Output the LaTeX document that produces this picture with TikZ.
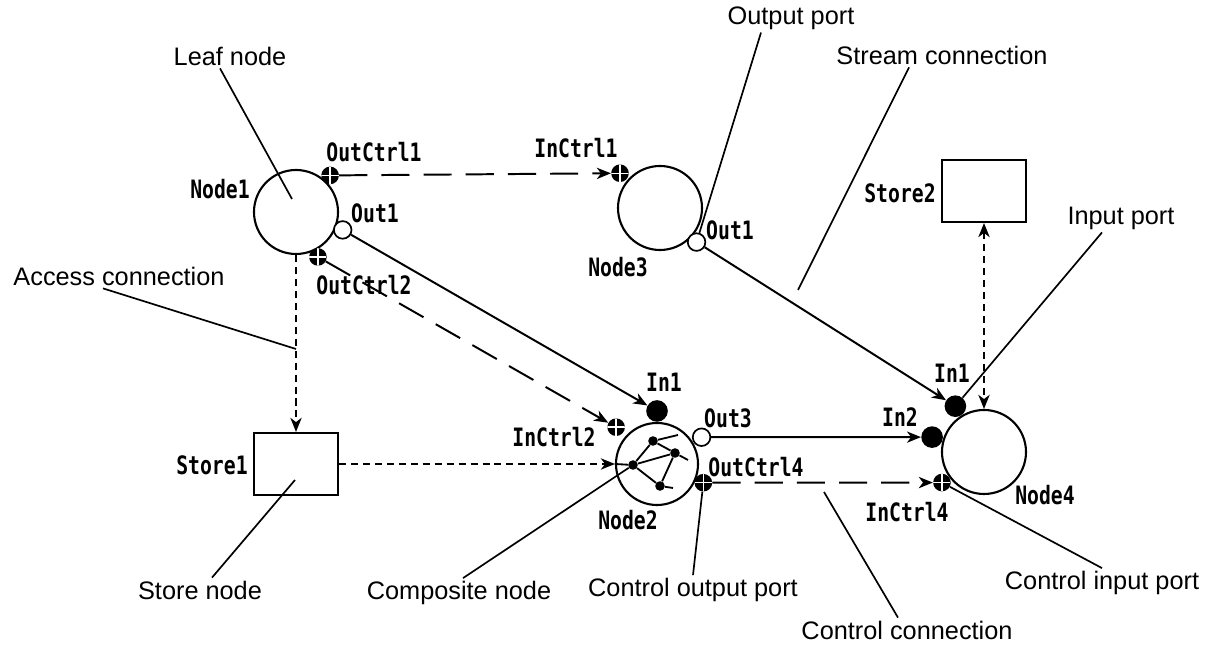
\documentclass[tikz,border=0pt]{standalone}
\usepackage{fontspec}
\setmainfont{Liberation Sans}
\newfontfamily\portfont{DejaVu Sans Mono}[FakeStretch=0.78]
\usetikzlibrary{positioning, arrows.meta, calc}

\tikzset{
  leafnode/.style={circle, draw, line width=1.5pt, minimum size=2.1cm, inner sep=0pt},
  storenode/.style={rectangle, draw, line width=1.5pt, minimum width=2.1cm,
    minimum height=1.55cm, inner sep=0pt},
  outport/.style={circle, draw, fill=white, line width=1.2pt, minimum size=0.44cm, inner sep=0pt},
  inport/.style={circle, fill=black, minimum size=0.54cm, inner sep=0pt},
  ctrlport/.style={circle, fill=black, minimum size=0.44cm, inner sep=0pt,
    path picture={\draw[white, line width=1pt]
      (path picture bounding box.north) -- (path picture bounding box.south)
      (path picture bounding box.west) -- (path picture bounding box.east);}},
  subdot/.style={circle, fill=black, minimum size=0.24cm, inner sep=0pt},
  portlabel/.style={font=\portfont\bfseries\fontsize{18}{21}\selectfont, inner sep=1pt},
  desc/.style={font=\fontsize{18}{21}\selectfont, inner sep=2pt},
  leader/.style={line width=1.2pt},
  subedge/.style={line width=1.3pt},
  stream/.style={line width=1.4pt, -{Stealth[length=10pt, width=8pt, inset=3pt]}},
  control/.style={stream, dash pattern=on 20pt off 10pt},
  access/.style={stream, dash pattern=on 5pt off 3.5pt},
  accessboth/.style={access,
    {Stealth[length=10pt, width=8pt, inset=3pt]}-{Stealth[length=10pt, width=8pt, inset=3pt]}},
}

\begin{document}
\begin{tikzpicture}[x=0.025cm, y=0.025cm]
  \useasboundingbox (0,0) rectangle (1219,650);

  % leaf, composite and store nodes
  \node[leafnode] (node1) at (296,438) {};
  \node[leafnode] (node3) at (660,442) {};
  \node[leafnode, minimum size=2.05cm] (node2) at (657,186) {};
  \node[leafnode] (node4) at (984,198) {};
  \node[storenode] (store1) at (296,186) {};
  \node[storenode] (store2) at (984,459) {};

  % ports
  \node[ctrlport] (n1octrla) at ($(node1)+(47:50)$) {};
  \node[outport]  (n1out)    at ($(node1)+(-21:50)$) {};
  \node[ctrlport] (n1octrlb) at ($(node1)+(-64:50)$) {};
  \node[ctrlport] (n3ictrl)  at ($(node3)+(139:53)$) {};
  \node[outport]  (n3out)    at ($(node3)+(-43:50)$) {};
  \node[inport]   (n2in1)    at ($(node2)+(90:53)$) {};
  \node[ctrlport] (n2ictrl)  at ($(node2)+(138:55)$) {};
  \node[outport]  (n2out3)   at ($(node2)+(31:52)$) {};
  \node[ctrlport] (n2octrl)  at ($(node2)+(-22:50)$) {};
  \node[inport]   (n4in1)    at ($(node4)+(122:54)$) {};
  \node[inport]   (n4in2)    at ($(node4)+(164:54)$) {};
  \node[ctrlport] (n4ictrl)  at ($(node4)+(-144:52)$) {};

  % inside the composite node
  \node[subdot] (n2a) at (653,209) {};
  \node[subdot] (n2b) at (675,197) {};
  \node[subdot] (n2c) at (633,185) {};
  \node[subdot] (n2d) at (660,164) {};
  \coordinate (n2astub) at (678,215);
  \coordinate (n2bstub) at (688,190);
  \coordinate (n2dstub) at (673,162);
  \draw[subedge] (n2c) -- (n2a) -- (n2b) -- (n2d) -- (n2c) -- (n2b);
  \draw[subedge] (n2a) -- (n2astub) (n2b) -- (n2bstub) (n2d) -- (n2dstub);
  \draw[subedge] (node2.west) -- (n2c);

  % connections
  \draw[control] (n1octrla) -- (n3ictrl);
  \draw[stream]  (n1out) -- (n2in1);
  \draw[control] (n1octrlb) -- (n2ictrl);
  \draw[access]  (node1) -- (store1);
  \draw[access]  (store1) -- (node2);
  \draw[stream]  (n3out) -- (n4in1);
  \draw[stream]  (n2out3) -- (n4in2);
  \draw[control] (n2octrl) -- (n4ictrl);
  \draw[accessboth] (store2) -- (node4);

  % port and node names
  \node[portlabel] (lnode1)    at (220,461) {Node1};
  \node[portlabel] (loctrla)   at (374,498) {OutCtrl1};
  \node[portlabel] (lout1a)    at (375,437) {Out1};
  \node[portlabel] (loctrlb)   at (364,365) {OutCtrl2};
  \node[portlabel] (lictrla)   at (576,502) {InCtrl1};
  \node[portlabel] (lnode3)    at (618,383) {Node3};
  \node[portlabel] (lout1b)    at (730,420) {Out1};
  \node[portlabel] (lstore2)   at (900,457) {Store2};
  \node[portlabel] (lstore1)   at (212,185) {Store1};
  \node[portlabel] (lictrlb)   at (554,213) {InCtrl2};
  \node[portlabel] (lnode2)    at (628,130) {Node2};
  \node[portlabel] (lin1a)     at (664,268) {In1};
  \node[portlabel] (lout3)     at (728,232) {Out3};
  \node[portlabel] (loctrlc)   at (756,183) {OutCtrl4};
  \node[portlabel] (lin2)      at (900,233) {In2};
  \node[portlabel] (lictrlc)   at (907,138) {InCtrl4};
  \node[portlabel] (lin1b)     at (952,277) {In1};
  \node[portlabel] (lnode4)    at (1045,155) {Node4};

  % descriptions and their leaders
  \coordinate (leafpt)   at (292,451);
  \coordinate (accesspt) at (296,301);
  \coordinate (streampt) at (798,360);
  \coordinate (storept)  at (295,170);
  \coordinate (ctrlpt)   at (824,158);

  \node[desc] (lleaf)     at (230,594)  {Leaf node};
  \node[desc] (laccess)   at (119,374)  {Access connection};
  \node[desc] (loutport)  at (791,632)  {Output port};
  \node[desc] (lstream)   at (942,595)  {Stream connection};
  \node[desc] (linport)   at (1121,432) {Input port};
  \node[desc] (lstorend)  at (200,60)   {Store node};
  \node[desc] (lcomp)     at (459,57)   {Composite node};
  \node[desc] (lctrlout)  at (693,60)   {Control output port};
  \node[desc] (lctrlconn) at (907,20)   {Control connection};
  \node[desc] (lctrlin)   at (1102,67)  {Control input port};

  \draw[leader] ($(lleaf.south)+(-10,0)$) -- (leafpt);
  \draw[leader] ($(laccess.south)+(-16,0)$) -- (accesspt);
  \draw[leader] ($(loutport.south)+(-30,0)$) -- (n3out);
  \draw[leader] ($(lstream.south)+(-33,0)$) -- (streampt);
  \draw[leader] ($(linport.south)+(-19,0)$) -- (n4in1);
  \draw[leader] ($(lstorend.north)+(12,0)$) -- (storept);
  \draw[leader] ($(lcomp.north)+(4,0)$) -- (n2c);
  \draw[leader] (lctrlout.north) -- (n2octrl);
  \draw[leader] ($(lctrlconn.north)+(-9,0)$) -- (ctrlpt);
  \draw[leader] (lctrlin.north) -- (n4ictrl);
\end{tikzpicture}
\end{document}
